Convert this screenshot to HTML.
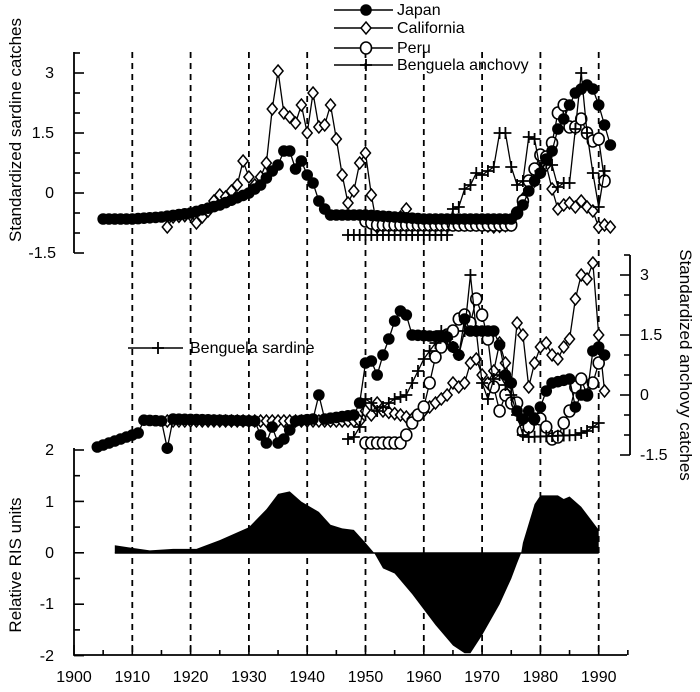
<!DOCTYPE html>
<html><head><meta charset="utf-8"><style>
html,body{margin:0;padding:0;background:#fff;}
svg{display:block;font-family:"Liberation Sans",Arial,sans-serif;}
</style></head><body>
<svg id="s" width="700" height="692" viewBox="0 0 700 692" xmlns="http://www.w3.org/2000/svg">
<rect width="700" height="692" fill="#fff"/>
<g id="g"></g>
<g font-size="16" fill="#000">
<text x="54" y="78" text-anchor="end">3</text>
<text x="54" y="138" text-anchor="end">1.5</text>
<text x="54" y="198" text-anchor="end">0</text>
<text x="56" y="258" text-anchor="end">-1.5</text>
<text x="54" y="455" text-anchor="end">2</text>
<text x="54" y="507" text-anchor="end">1</text>
<text x="54" y="558" text-anchor="end">0</text>
<text x="54" y="609" text-anchor="end">-1</text>
<text x="54" y="661" text-anchor="end">-2</text>
<text x="640" y="280">3</text>
<text x="640" y="340">1.5</text>
<text x="640" y="400">0</text>
<text x="640" y="460">-1.5</text>
<text transform="translate(21,130) rotate(-90)" text-anchor="middle" font-size="17">Standardized sardine catches</text>
<text transform="translate(21,565) rotate(-90)" text-anchor="middle" font-size="17">Relative RIS units</text>
<text transform="translate(680,365) rotate(90)" text-anchor="middle" font-size="17">Standardized anchovy catches</text>
<text x="397" y="15">Japan</text>
<text x="397" y="33">California</text>
<text x="397" y="53">Peru</text>
<text x="397" y="70">Benguela anchovy</text>
<text x="190" y="353">Benguela sardine</text>
</g>
</svg>
<script>
const g=document.getElementById('g');let h='';
const X=y=>74+5.83*(y-1900);
const YT=v=>193-40*v, YM=v=>395-40*v, YB=v=>553-51.4*v;
for(let y=1910;y<=1990;y+=10)h+=`<line x1="${X(y)}" y1="52" x2="${X(y)}" y2="655" stroke="#000" stroke-width="1.8" stroke-dasharray="6,5"/>`;
const ris=[[1907,0],[1907,0.15],[1910,0.1],[1913,0.05],[1917,0.08],[1921,0.08],[1925,0.25],[1930,0.5],[1933,0.85],[1935,1.15],[1937,1.2],[1939,1.0],[1942,0.8],[1944,0.55],[1946,0.48],[1948,0.45],[1950,0.2],[1951.5,0],[1953,-0.3],[1955,-0.4],[1958,-0.8],[1962,-1.4],[1965,-1.8],[1967,-1.95],[1968,-1.95],[1970,-1.6],[1973,-1.0],[1975,-0.5],[1976,-0.2],[1976.7,0],[1977,0.2],[1979,0.95],[1980,1.12],[1983,1.12],[1984,1.05],[1985,1.1],[1987,0.9],[1989,0.6],[1990,0.45],[1990,0]];
h+=`<polygon fill="#000" points="${ris.map(p=>X(p[0])+','+YB(p[1])).join(' ')}"/>`;
h+=`<line x1="${X(1907)}" y1="${YB(0)}" x2="${X(1990)}" y2="${YB(0)}" stroke="#000" stroke-width="1.5"/>`;
h+=`<path d="M74 52V253M74 448V655H627M630 255V455" stroke="#000" stroke-width="1.8" fill="none"/>`;
for(let i=0;i<=10;i++){const y=53+20*i;h+=`<line x1="74" x2="${i%3==1?84:80}" y1="${y}" y2="${y}" stroke="#000" stroke-width="1.6"/>`;}
for(let i=0;i<=10;i++){const y=255+20*i;h+=`<line x1="630" x2="${i%3==1?620:624}" y1="${y}" y2="${y}" stroke="#000" stroke-width="1.6"/>`;}
for(let i=0;i<=8;i++){const y=450+25.7*i;h+=`<line x1="74" x2="${i%2==0?84:80}" y1="${y}" y2="${y}" stroke="#000" stroke-width="1.6"/>`;}
for(let yr=1900;yr<=1995;yr+=5){h+=`<line x1="${X(yr)}" x2="${X(yr)}" y1="655" y2="${yr%10?650:645}" stroke="#000" stroke-width="1.6"/>`;}
for(let yr=1900;yr<=1990;yr+=10)h+=`<text x="${X(yr)}" y="682" font-size="16" text-anchor="middle">${yr}</text>`;
function mk(t,x,y){
 if(t=='j')return `<circle cx="${x}" cy="${y}" r="5.8" fill="#000"/>`;
 if(t=='c')return `<path d="M${x} ${y-6}L${x+5} ${y}L${x} ${y+6}L${x-5} ${y}Z" fill="#fff" stroke="#000" stroke-width="1.5"/>`;
 if(t=='p')return `<ellipse cx="${x}" cy="${y}" rx="5.5" ry="6" fill="#fff" stroke="#000" stroke-width="1.6"/>`;
 return `<path d="M${x-6} ${y}H${x+6}M${x} ${y-6}V${y+6}" stroke="#000" stroke-width="1.8"/>`;
}
function ser(t,d,Y){
 const pts=d.map(p=>[X(p[0]),Y(p[1])]);
 h+=`<polyline fill="none" stroke="#000" stroke-width="1.3" points="${pts.map(p=>p.join(',')).join(' ')}"/>`;
 pts.forEach(p=>h+=mk(t,p[0],p[1]));
}
function fill(arr){
 const o=[];for(let i=0;i<arr.length-1;i++){const [a,va]=arr[i],[b,vb]=arr[i+1];for(let y=a;y<b;y++)o.push([y,va+(vb-va)*(y-a)/(b-a)]);}o.push(arr[arr.length-1]);return o;}
ser('c',fill([[1916,-0.85],[1917,-0.6],[1920,-0.55],[1921,-0.75],[1922,-0.6],[1923,-0.45],[1924,-0.2],[1925,-0.05],[1926,-0.1],[1927,0.05],[1928,0.2],[1929,0.8],[1930,0.4],[1931,0.2],[1932,0.4],[1933,0.75],[1934,2.1],[1935,3.05],[1936,2.0],[1937,1.9],[1938,1.75],[1939,2.2],[1940,1.5],[1941,2.5],[1942,1.65],[1943,1.7],[1944,2.2],[1945,1.35],[1946,0.45],[1947,-0.25],[1948,0.05],[1949,0.75],[1950,1.0],[1951,-0.05],[1952,-0.85],[1955,-0.7],[1956,-0.6],[1957,-0.4],[1958,-0.75],[1966,-0.8],[1970,-0.8],[1972,-0.85],[1975,-0.8],[1976,-0.5],[1977,-0.15],[1978,0.1],[1979,0.3],[1980,0.55],[1981,0.7],[1982,0.1],[1983,-0.4],[1984,-0.3],[1985,-0.25],[1986,-0.35],[1987,-0.2],[1988,-0.35],[1989,-0.45],[1990,-0.85],[1991,-0.8],[1992,-0.85]]),YT);
ser('p',fill([[1950,-0.7],[1952,-0.8],[1975,-0.8],[1976,-0.5],[1977,-0.2],[1978,0.3],[1979,0.6],[1980,0.95],[1981,0.9],[1982,1.25],[1983,2.0],[1984,2.2],[1985,1.65],[1986,1.65],[1987,1.85],[1988,1.5],[1989,1.3],[1990,1.35],[1991,0.3]]),YT);
ser('a',fill([[1947,-1.05],[1964,-1.05],[1965,-0.4],[1966,-0.35],[1967,0.1],[1968,0.2],[1969,0.5],[1970,0.45],[1971,0.55],[1972,0.65],[1973,1.5],[1974,1.5],[1975,0.65],[1976,0.2],[1977,0.3],[1978,1.4],[1979,1.35],[1980,0.55],[1981,0.75],[1982,0.7],[1983,0.15],[1984,0.25],[1985,0.25],[1986,1.6],[1987,3.0],[1988,1.5],[1989,0.5],[1990,-0.35],[1991,0.55]]),YT);
ser('j',fill([[1905,-0.65],[1910,-0.65],[1915,-0.6],[1920,-0.5],[1925,-0.3],[1930,0.0],[1932,0.2],[1934,0.55],[1935,0.7],[1936,1.05],[1937,1.05],[1938,0.6],[1939,0.8],[1940,0.45],[1941,0.25],[1942,-0.2],[1943,-0.4],[1944,-0.55],[1950,-0.55],[1960,-0.65],[1975,-0.65],[1976,-0.5],[1977,-0.3],[1978,0.05],[1979,0.3],[1980,0.5],[1981,0.85],[1982,1.05],[1983,1.6],[1984,1.85],[1985,2.2],[1986,2.5],[1987,2.6],[1988,2.7],[1989,2.6],[1990,2.2],[1991,1.7],[1992,1.2]]),YT);
ser('c',fill([[1916,-0.65],[1949,-0.65],[1950,-0.4],[1951,-0.5],[1952,-0.2],[1953,-0.4],[1956,-0.5],[1958,-0.6],[1959,-0.5],[1960,-0.4],[1961,-0.3],[1962,-0.2],[1963,-0.1],[1964,0.0],[1965,0.3],[1966,0.2],[1967,0.3],[1968,0.8],[1969,0.9],[1970,0.5],[1971,0.3],[1972,0.6],[1973,1.3],[1974,0.8],[1975,0.3],[1976,1.8],[1977,1.5],[1978,0.2],[1979,0.8],[1980,1.2],[1981,1.3],[1982,1.0],[1983,0.9],[1984,1.2],[1985,1.4],[1986,2.4],[1987,3.0],[1988,2.9],[1989,3.3],[1990,1.5],[1991,0.1]]),YM);
ser('p',fill([[1950,-1.2],[1956,-1.2],[1957,-1.0],[1958,-0.7],[1959,-0.5],[1960,-0.3],[1961,0.3],[1962,0.95],[1963,1.2],[1964,1.5],[1965,1.6],[1966,1.9],[1967,2.0],[1968,1.8],[1969,2.4],[1970,2.0],[1971,1.4],[1972,0.2],[1973,-0.4],[1974,0.0],[1975,-0.2],[1976,-0.2],[1977,-0.9],[1978,-0.8],[1979,-0.6],[1980,-0.6],[1981,-0.8],[1982,-1.1],[1983,-1.05],[1984,-0.7],[1985,-0.4],[1986,0.2],[1987,0.4],[1988,0.0],[1989,0.3],[1990,0.8]]),YM);
ser('a',fill([[1947,-1.1],[1948,-1.05],[1949,-0.8],[1950,-0.1],[1951,-0.2],[1952,-0.4],[1953,-0.3],[1955,-0.1],[1957,0.0],[1958,0.3],[1959,0.6],[1960,0.9],[1961,1.1],[1962,1.3],[1963,1.6],[1964,1.4],[1965,1.2],[1966,1.0],[1967,1.6],[1968,3.0],[1969,1.6],[1970,0.3],[1971,-0.1],[1972,0.4],[1973,0.5],[1975,0.0],[1976,-0.5],[1977,-1.0],[1978,-1.05],[1986,-1.0],[1988,-0.9],[1990,-0.7]]),YM);
ser('j',fill([[1904,-1.3],[1907,-1.15],[1911,-0.95],[1912,-0.63],[1915,-0.65],[1916,-1.33],[1917,-0.6],[1931,-0.65],[1932,-1.0],[1933,-1.2],[1934,-0.8],[1935,-1.2],[1936,-1.1],[1938,-0.65],[1941,-0.6],[1942,0.0],[1943,-0.6],[1948,-0.5],[1949,-0.2],[1950,0.8],[1951,0.85],[1952,0.5],[1953,1.0],[1954,1.4],[1955,1.85],[1956,2.1],[1957,2.0],[1958,1.5],[1964,1.45],[1965,1.2],[1966,1.0],[1967,1.9],[1968,1.6],[1972,1.6],[1973,1.25],[1974,0.5],[1975,0.3],[1976,-0.4],[1977,-0.6],[1978,-0.4],[1979,-0.6],[1980,-0.3],[1981,0.1],[1982,0.3],[1985,0.4],[1986,-0.3],[1987,0.0],[1988,0.0],[1989,1.1],[1990,1.2],[1991,1.0]]),YM);
const L=[['j',10],['c',28],['p',48],['a',65]];
L.forEach(([t,y])=>{h+=`<line x1="334" x2="393" y1="${y}" y2="${y}" stroke="#000" stroke-width="1.5"/>`+mk(t,366,y);});
h+=`<line x1="128" x2="183" y1="348" y2="348" stroke="#000" stroke-width="1.5"/>`+mk('a',158,348);
g.innerHTML=h;
</script>
</body></html>
